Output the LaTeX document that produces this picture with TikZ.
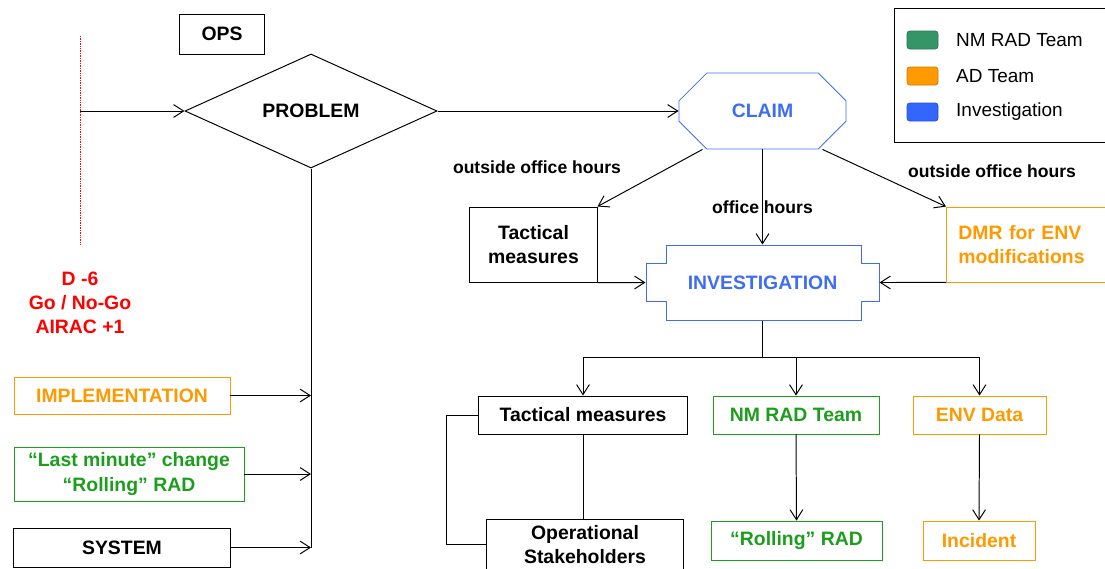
\documentclass[tikz,border=0pt]{standalone}
\usepackage{fontspec}
\setmainfont{Liberation Sans}
\usetikzlibrary{arrows.meta,shapes.geometric,shapes.misc,calc}
\definecolor{adorange}{HTML}{FF9900}
\definecolor{radgreen}{HTML}{1B9E1B}
\definecolor{invblue}{HTML}{3D6DF2}
\definecolor{legreen}{HTML}{369566}
\definecolor{legblue}{HTML}{3366FF}
\begin{document}
\begin{tikzpicture}[x=0.025cm,y=-0.025cm,line width=0.7pt,
box/.style={draw,line width=0.7pt,font=\bfseries\fontsize{13.8}{17.5}\selectfont,inner sep=0pt,align=center},
adbox/.style={box,draw=adorange,text=adorange,line width=0.6pt},
radbox/.style={box,draw=radgreen,text=radgreen,line width=0.6pt},
lbl/.style={font=\bfseries\fontsize{12.5}{14}\selectfont},
arr/.style={-{Straight Barb[length=2.5mm,width=3.2mm]}},
swatch/.style={draw=#1!80!black,fill=#1,rounded corners=2pt,line width=0.5pt,minimum width=0.775cm,minimum height=0.45cm,inner sep=0pt},
legtext/.style={anchor=west,font=\fontsize{13.5}{15}\selectfont}]
\useasboundingbox (0,0) rectangle (1105,568);

\node[box,minimum width=2.1cm,minimum height=1cm] (ops) at (222,34) {OPS};
\node[box,diamond,aspect=2.2,minimum width=6.3cm,minimum height=2.85cm] (prob) at (311,111) {PROBLEM};
\node[box,chamfered rectangle,chamfered rectangle xsep=0.575cm,chamfered rectangle ysep=0.525cm,
  draw=invblue,text=invblue,line width=0.6pt,minimum width=4.175cm,minimum height=1.9cm] (claim) at (762.5,111) {CLAIM};
\node[font=\bfseries\fontsize{13.8}{17.5}\selectfont,text=invblue,minimum width=5.825cm,minimum height=1.875cm] (inv) at (762.5,282.5) {INVESTIGATION};
\draw[invblue,line width=0.6pt] (666,245) -- (861,245) |- (879,263) |- (861,301) |- (666,320) |- (646,301) |- (666,263) -- cycle;
\node[box,minimum width=3.175cm,minimum height=1.875cm] (tac1) at (533.5,244.5) {Tactical\\measures};
\node[adbox,anchor=west,text width=3.5cm,inner xsep=0.3cm,minimum height=1.875cm,align=left] (dmr) at (946,244.5) {DMR for ENV\\modifications};
\node[lbl] (out1) at (537,167) {outside office hours};
\node[lbl] (out2) at (992,171) {outside office hours};

\node[draw,line width=0.8pt,anchor=north west,minimum width=5.5cm,minimum height=3.35cm] (leg) at (894,8) {};
\node[swatch=legreen] (s1) at (922.5,40) {};
\node[legtext] (t1) at (951,40) {NM RAD Team};
\node[swatch=adorange] (s2) at (922.5,76) {};
\node[legtext] (t2) at (951,76) {AD Team};
\node[swatch=legblue] (s3) at (922.5,112) {};
\node[legtext] (t3) at (951,112) {Investigation};

\node[box,minimum width=5.2cm,minimum height=0.95cm] (tac2) at (583,415) {Tactical measures};
\node[radbox,minimum width=4.15cm,minimum height=0.95cm] (nmrad) at (796,415) {NM RAD Team};
\node[adbox,minimum width=3.325cm,minimum height=0.95cm] (env) at (979.5,415) {ENV Data};
\node[box,minimum width=4.9cm,minimum height=1.25cm] (opst) at (585,544.5) {Operational\\Stakeholders};
\node[radbox,minimum width=4.275cm,minimum height=0.975cm] (roll) at (796.5,540.5) {“Rolling” RAD};
\node[adbox,minimum width=2.8cm,minimum height=0.975cm] (inc) at (979,540.5) {Incident};

\node[font=\bfseries\fontsize{13.8}{17}\selectfont,text=red,align=center] (go) at (80,303) {D -6\\Go / No-Go\\AIRAC +1};
\node[adbox,minimum width=5.4cm,minimum height=0.925cm] (impl) at (122,395.5) {IMPLEMENTATION};
\node[radbox,minimum width=5.75cm,minimum height=1.35cm] (last) at (129,474) {“Last minute” change\\“Rolling” RAD};
\node[box,minimum width=5.4cm,minimum height=0.975cm] (sys) at (122,547.5) {SYSTEM};

\coordinate (dtop) at (80,36);
\coordinate (dbot) at (80,245);
\draw[red,dash pattern=on 0.5pt off 0.7pt,line width=0.6pt] (dtop) -- (dbot);
\draw[arr] (prob.west -| dtop) -- (prob.west);
\draw[arr] (prob.east) -- (claim.west);
\draw (prob.south) -- (prob.south |- sys.east);
\foreach \n in {impl,last,sys}
  \draw[arr] (\n.east) -- (\n.east -| prob.south);

\draw[arr] ([xshift=-1.5cm]claim.south) -- (tac1.north east);
\draw[arr] (claim.south) -- node[lbl,pos=0.61] (oh) {office hours} (inv.north);
\draw[arr] ([xshift=1.5cm]claim.south) -- (dmr.north west);
\draw[arr] (tac1.south east) -- (inv.west);
\draw[arr] (dmr.south west) -- (inv.east);

\coordinate (split) at (762.5,357);
\draw (inv.south) -- (split);
\foreach \n in {tac2,nmrad,env}
  \draw[arr] (split) -| (\n.north);
\draw (tac2.south) -- (tac2.south |- opst.north);
\draw (tac2.west) -- ++(-32,0) |- (opst.west);
\draw[arr] (nmrad.south) -- (roll.north);
\draw[arr] (env.south) -- (inc.north);
\end{tikzpicture}
\end{document}
